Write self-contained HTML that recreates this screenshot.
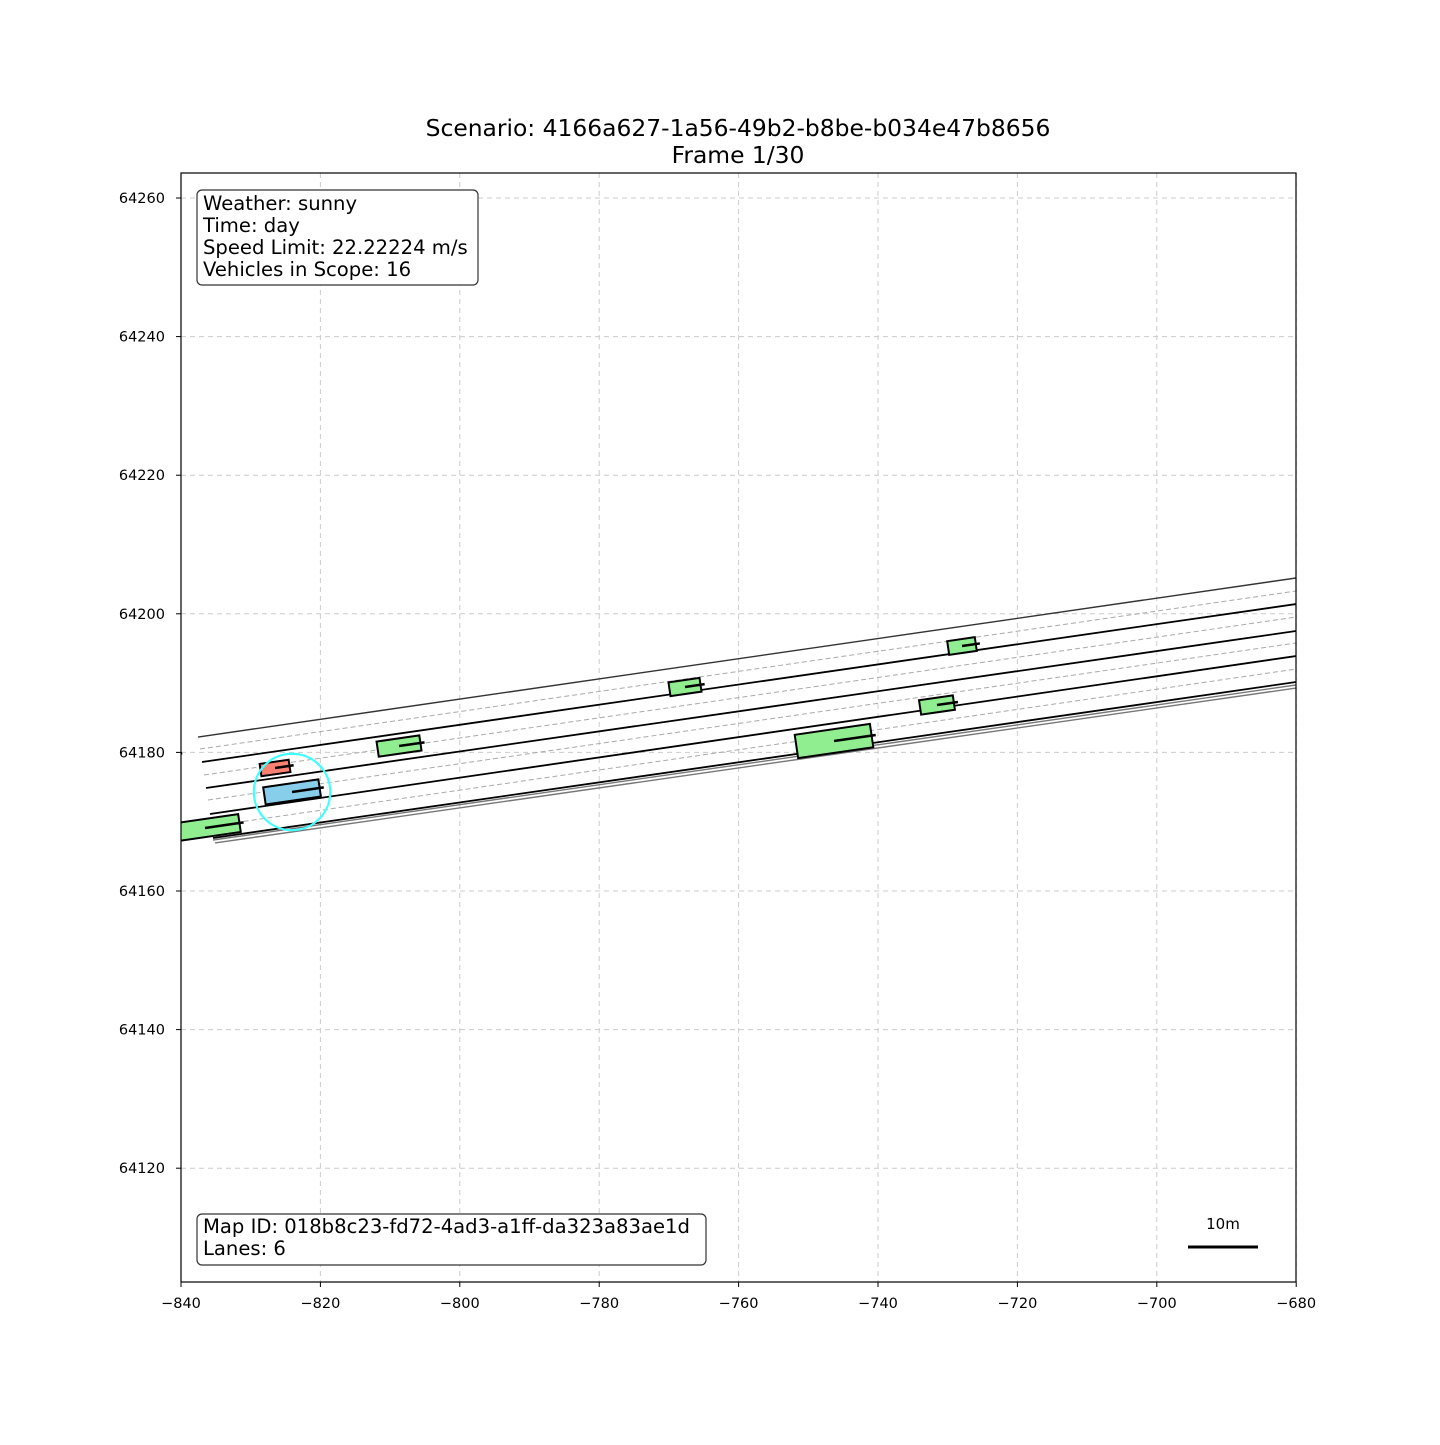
<!DOCTYPE html>
<html><head><meta charset="utf-8"><style>
body{margin:0;background:#fff}
svg text{font-family:"DejaVu Sans","Liberation Sans",sans-serif}
</style></head><body>
<svg id="c" width="1440" height="1440" xmlns="http://www.w3.org/2000/svg">
<defs><clipPath id="ax"><rect x="181" y="173" width="1115" height="1109"/></clipPath></defs>
<rect width="1440" height="1440" fill="#fff"/>
<g id="grid"></g>
<g id="plot" clip-path="url(#ax)"></g>
<rect x="181" y="173" width="1115" height="1109" fill="none" stroke="#000" stroke-width="1.2"/>
<g id="ticks"></g>
<text x="738" y="136" font-size="23.4" text-anchor="middle">Scenario: 4166a627-1a56-49b2-b8be-b034e47b8656</text>
<text x="738" y="163" font-size="23.4" text-anchor="middle">Frame 1/30</text>
<g>
<rect x="197" y="190" width="281" height="95" rx="5" fill="#fff" stroke="#333" stroke-width="1.2"/>
<text x="203" y="210" font-size="19.6">Weather: sunny</text>
<text x="203" y="232" font-size="19.6">Time: day</text>
<text x="203" y="254" font-size="19.6">Speed Limit: 22.22224 m/s</text>
<text x="203" y="276" font-size="19.6">Vehicles in Scope: 16</text>
</g>
<g>
<rect x="197" y="1214" width="509" height="51" rx="5" fill="#fff" stroke="#333" stroke-width="1.2"/>
<text x="203" y="1233" font-size="19.6">Map ID: 018b8c23-fd72-4ad3-a1ff-da323a83ae1d</text>
<text x="203" y="1255" font-size="19.6">Lanes: 6</text>
</g>
<g>
<line x1="1188" y1="1247" x2="1258" y2="1247" stroke="#000" stroke-width="3"/>
<text x="1223" y="1229" font-size="15" text-anchor="middle">10m</text>
</g>
</svg>
<script>
const xTicks=[-840,-820,-800,-780,-760,-740,-720,-700,-680];
const yTicks=[64120,64140,64160,64180,64200,64220,64240,64260];
const laneX1=[-837.56,-837.27,-836.99,-836.70,-836.41,-836.13,-835.84,-835.55,-835.41,-835.41,-835.12];
const laneY1=[64182.22,64180.49,64178.61,64176.74,64174.86,64173.13,64171.11,64169.38,64167.65,64167.36,64166.93];
const laneX2=[-680,-680,-680,-680,-680,-680,-680,-680,-680,-680,-680];
const laneY2=[64205.17,64203.29,64201.41,64199.54,64197.52,64195.79,64193.91,64192.03,64190.16,64189.73,64189.29];
const laneType=["edge","dash","solid","dash","solid","dash","solid","dash","solid","gray","gray"];
const vehX=[-836.56,-808.72,-767.69,-727.95,-731.54,-746.31,-842.4,-826.51,-824.07];
const vehY=[64169.09,64180.92,64189.44,64195.35,64186.84,64181.64,64179.5,64177.75,64174.29];
const vehLen=[10,6.2,4.5,4,4.9,10.9,4,4.2,8];
const vehWid=[2.6,2.2,2,2,2.1,3.4,2,1.8,2.5];
const vehKind=["other","other","other","other","other","other","other","adv","ego"];
const heading=8.28;
const egoRadius=5.5;
const X=v=>181+(v+840)*6.97, Y=v=>198+(64260-v)*6.93;
const NS="http://www.w3.org/2000/svg";
function mk(p,t,a){const e=document.createElementNS(NS,t);for(const k in a)e.setAttribute(k,a[k]);p.appendChild(e);return e;}
const grid=document.getElementById('grid'),plot=document.getElementById('plot'),ticks=document.getElementById('ticks');
xTicks.forEach(v=>{const l=mk(grid,'line',{x1:X(v),x2:X(v),y1:173,y2:1282,stroke:'#ccc','stroke-dasharray':'5,4','stroke-width':1});

const t=mk(ticks,'line',{x1:X(v),x2:X(v),y1:1282,y2:1287,stroke:'#000'});
const s=mk(ticks,'text',{x:X(v),y:1308,'font-size':14.5,'text-anchor':'middle'});s.textContent=String(v).replace('-','\u2212');
});
yTicks.forEach(v=>{const l=mk(grid,'line',{x1:181,x2:1296,y1:Y(v),y2:Y(v),stroke:'#ccc','stroke-dasharray':'5,4','stroke-width':1});

const t=mk(ticks,'line',{x1:176,x2:181,y1:Y(v),y2:Y(v),stroke:'#000'});
const s=mk(ticks,'text',{x:165,y:Y(v)+5,'font-size':14.5,'text-anchor':'end'});s.textContent=v;
});
laneX1.forEach((_,i)=>{const t=laneType[i];
const st={edge:['#333',1.4,''],dash:['#aaa',1,'5,3'],solid:['#000',1.8,''],gray:['#777',1.4,'']}[t];
const l=mk(plot,'line',{x1:X(laneX1[i]),y1:Y(laneY1[i]),x2:X(laneX2[i]),y2:Y(laneY2[i]),stroke:st[0],'stroke-width':st[1]});
if(st[2])l.setAttribute('stroke-dasharray',st[2]);
});
const a=heading*Math.PI/180,c=Math.cos(a),s=Math.sin(a);
vehX.forEach((_,i)=>{const cx=vehX[i],cy=vehY[i],L=vehLen[i]/2,W=vehWid[i]/2;
const pts=[[L,W],[L,-W],[-L,-W],[-L,W]].map(([u,v])=>[X(cx+u*c-v*s),Y(cy+u*s+v*c)].join(',')).join(' ');
const fill={other:'#90ee90',adv:'#fa8072',ego:'#87ceeb'}[vehKind[i]];
const g=mk(plot,'g',{});
mk(g,'polygon',{points:pts,fill:fill,stroke:'#000','stroke-width':2});
const h=L+0.6;mk(g,'line',{x1:X(cx),y1:Y(cy),x2:X(cx+h*c),y2:Y(cy+h*s),stroke:'#000','stroke-width':2.5});
if(vehKind[i]==='ego'){const r=mk(plot,'circle',{cx:X(cx),cy:Y(cy),r:egoRadius*6.95,fill:'none',stroke:'#40ffff','stroke-width':2.2});
}});
</script>
</body></html>
